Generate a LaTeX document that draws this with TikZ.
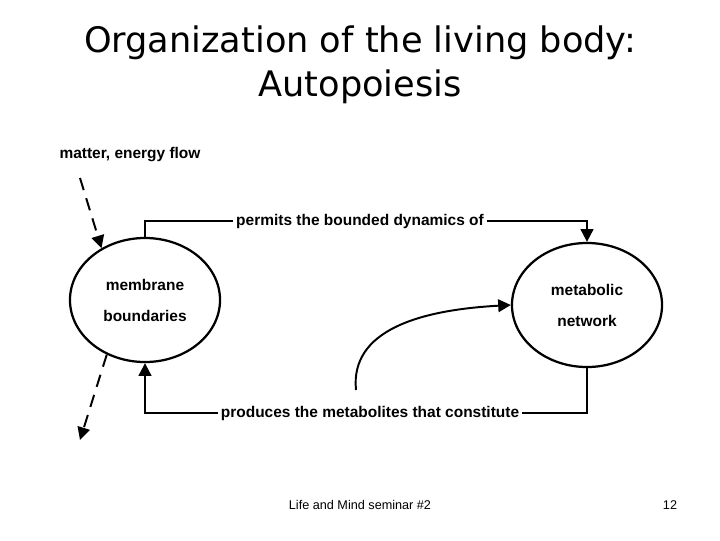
\documentclass[tikz,border=0pt]{standalone}
\usepackage{fontspec}
\setmainfont{Liberation Sans}
\newfontfamily\titlefont{DejaVu Sans}
\usetikzlibrary{positioning, arrows.meta, shapes.geometric}
\begin{document}
\begin{tikzpicture}[x=0.025cm, y=-0.025cm,
  cell/.style={ellipse, draw, line width=1.6pt, minimum width=150\pgflinewidth, minimum height=124\pgflinewidth},
  lbl/.style={font=\bfseries\fontsize{11}{13}\selectfont, fill=white, inner sep=2pt},
  flow/.style={line width=1.4pt, -{Triangle[length=9pt, width=9pt]}},
  feed/.style={line width=1.4pt, dash pattern=on 9pt off 6pt, -{Triangle[length=9pt, width=9pt]}}]
\useasboundingbox (0,0) rectangle (720,540);
% title %
\node[font=\titlefont\fontsize{25}{31}\selectfont, align=center] (title) at (360,65) {Organization of the living body:\\Autopoiesis};
% nodes %
\node[ellipse, draw, line width=1.6pt, minimum width=3.75cm, minimum height=3.1cm, align=center, font=\bfseries\fontsize{11}{22}\selectfont] (mem) at (145,300) {membrane\\boundaries};
\node[ellipse, draw, line width=1.6pt, minimum width=3.75cm, minimum height=3.1cm, align=center, font=\bfseries\fontsize{11}{22}\selectfont] (met) at (587,305) {metabolic\\network};
\node[lbl] (perm) at (360,221) {permits the bounded dynamics of};
\node[lbl] (prod) at (370,413) {produces the metabolites that constitute};
\node[font=\bfseries\fontsize{11}{13}\selectfont, inner sep=1pt] (flowin) at (130,155) {matter, energy flow};
\coordinate (din) at (80,178);
\coordinate (dout) at (80,440);
\coordinate (cstart) at (356,390);
% edges %
\draw[line width=1.4pt] (mem.north) |- (perm.west);
\draw[flow] (perm.east) -| (met.north);
\draw[line width=1.4pt] (met.south) |- (prod.east);
\draw[flow] (prod.west) -| (mem.south);
\draw[flow] (cstart) .. controls (350,330) and (420,310) .. (met.west);
\draw[feed] (din) -- (mem.130);
\draw[feed] (mem.235) -- (dout);
% footer %
\node[font=\fontsize{9}{11}\selectfont] (foot) at (360,505) {Life and Mind seminar \#2};
\node[font=\fontsize{9}{11}\selectfont] (page) at (670,505) {12};
\end{tikzpicture}
\end{document}
